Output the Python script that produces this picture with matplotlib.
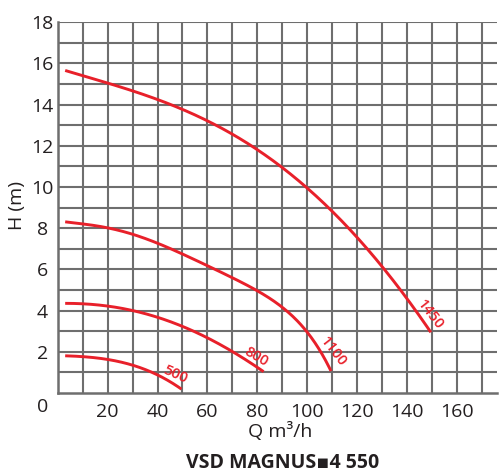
import numpy as np
import matplotlib
matplotlib.use("Agg")
import matplotlib.pyplot as plt

plt.rcParams["font.family"] = ["Open Sans", "DejaVu Sans"]

# ── data ─────────────────────────────────────────────────────
q_500 = [3, 10, 20, 30, 40, 49.6]
h_500 = [1.81, 1.76, 1.63, 1.36, 0.87, 0.19]

q_800 = [3, 10, 20, 30, 40, 50, 60, 70, 80, 82.5]
h_800 = [4.35, 4.34, 4.22, 3.98, 3.70, 3.25, 2.65, 2.00, 1.31, 0.99]

q_1100 = [3, 10, 20, 30, 40, 50, 60, 70, 80, 90, 100, 105, 109.5]
h_1100 = [8.29, 8.24, 8.04, 7.67, 7.23, 6.78, 6.21, 5.60, 4.99, 4.03, 2.98, 2.20, 0.98]

q_1450 = [3, 10, 20, 30, 40, 50, 60, 70, 80, 90, 100, 110, 120, 130, 140, 149.5]
h_1450 = [15.65, 15.40, 15.08, 14.68, 14.22, 13.77, 13.17, 12.52, 11.90, 11.00,
          9.94, 8.75, 7.50, 6.13, 4.67, 2.90]

curves = [(q_500, h_500, "500", 3), (q_800, h_800, "800", 4),
          (q_1100, h_1100, "1100", 5), (q_1450, h_1450, "1450", 5)]

# label position (x, y, rotation) for each speed
label_pos = {"500": (47.3, 0.9, -24), "800": (79.6, 1.78, -30),
             "1100": (110.6, 2.0, -52), "1450": (149.3, 3.8, -52)}

x_ticks = [20, 40, 60, 80, 100, 120, 140, 160]
y_ticks = [2, 4, 6, 8, 10, 12, 14, 16, 18]

red = "#e8202a"
grid_col = "#6e6e6e"
txt_col = "#231f20"

fig = plt.figure(figsize=(4.99, 4.73), dpi=100)
ax = fig.add_axes([0.1156, 0.1691, 0.996 - 0.1156, 0.953 - 0.1691])

for q, h, name, deg in curves:
    # smooth least-squares polynomial through the read points
    coef = np.polyfit(q, h, deg)
    qs = np.linspace(q[0], q[-1], 300)
    ax.plot(qs, np.polyval(coef, qs), color=red, lw=2.1,
            solid_capstyle="butt", zorder=3)
    lx, ly, rot = label_pos[name]
    ax.text(lx, ly, name, color=red, fontsize=10.5, fontweight=600,
            rotation=rot, ha="center", va="center", zorder=4)

ax.set_xlim(0, 176)
ax.set_ylim(0, 18)

ax.set_xticks(x_ticks)
ax.set_xticks(np.arange(10, 180, 10), minor=True)
ax.set_yticks(y_ticks)
ax.set_yticks(np.arange(1, 19, 1), minor=True)
ax.grid(True, which="both", color=grid_col, lw=1.5)
ax.set_axisbelow(True)

ax.tick_params(which="both", length=0)
ax.tick_params(axis="x", pad=7, labelsize=14, labelcolor=txt_col)
ax.tick_params(axis="y", pad=11, labelsize=14, labelcolor=txt_col)
for lab in ax.get_yticklabels():
    lab.set_horizontalalignment("center")

ax.annotate("0", xy=(0, 0), xycoords="data", xytext=(-15, -14),
            textcoords="offset pixels", ha="center", va="center",
            fontsize=14, color=txt_col)

for side in ["top", "right"]:
    ax.spines[side].set_visible(False)
for side in ["left", "bottom"]:
    ax.spines[side].set_color(grid_col)
    ax.spines[side].set_linewidth(1.8)

fig.text(280 / 499, 1 - 431 / 473, "Q m³/h", ha="center", va="center",
         fontsize=14, color=txt_col)
fig.text(17 / 499, 1 - 205 / 473, "H (m)", ha="center", va="center",
         rotation=90, fontsize=14, color=txt_col)
fig.text(283 / 499, 1 - 463 / 473, "VSD MAGNUS▪4 550", ha="center",
         va="center", fontsize=14, fontweight="bold", color=txt_col)

fig.savefig("out.png", dpi=100)
